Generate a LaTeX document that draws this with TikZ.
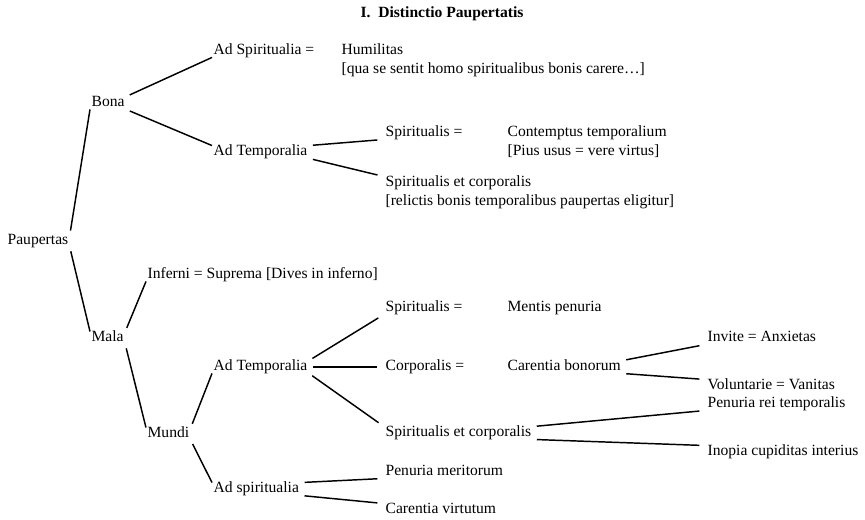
\documentclass[tikz,border=0pt]{standalone}
\usepackage{fontspec}
\setmainfont{Liberation Serif}
\usepackage{tikz}

\tikzset{
    lbl/.style={anchor=west, inner xsep=1pt, inner ysep=0.5pt,
        text height=1.45ex, text depth=.35ex,
        font=\fontsize{11.7}{14}\selectfont},
    branch/.style={line width=1.1pt, shorten <=3pt},
    farbranch/.style={branch, shorten >=5pt}
}

\begin{document}
\begin{tikzpicture}[x=0.75pt, y=-0.75pt]
                \useasboundingbox (0,0) rectangle (865,520);

                % title
                \node[font=\fontsize{11.7}{14}\selectfont\bfseries] (title) at (442,14) {I.\ \ Distinctio Paupertatis};

                % root and first level
                \node[lbl] (paup) at (6,241) {Paupertas};
                \node[lbl] (bona) at (90,103) {Bona};
                \node[lbl] (mala) at (90,338) {Mala};

                % Bona
                \node[lbl] (adspir) at (212,51) {Ad Spiritualia =};
                \node[lbl] (humil) at (340,51) {Humilitas};
                \node[lbl] (humilnote) at ([yshift=-14pt]humil.west) {[qua se sentit homo spiritualibus bonis carere…]};
                \node[lbl] (adtemA) at (212,152) {Ad Temporalia};
                \node[lbl] (spirA) at (384,133) {Spiritualis =};
                \node[lbl] (contempt) at (506,133) {Contemptus temporalium};
                \node[lbl] (contemptnote) at ([yshift=-14pt]contempt.west) {[Pius usus = vere virtus]};
                \node[lbl] (spcoA) at (384,183) {Spiritualis et corporalis};
                \node[lbl] (spconote) at ([yshift=-14pt]spcoA.west) {[relictis bonis temporalibus paupertas eligitur]};

                % Mala
                \node[lbl] (inferni) at (146,275) {Inferni = Suprema [Dives in inferno]};
                \node[lbl] (mundi) at (146,434) {Mundi};
                \node[lbl] (adtemB) at (212,367) {Ad Temporalia};
                \node[lbl] (spirB) at (384,308) {Spiritualis =};
                \node[lbl] (mentis) at (506,308) {Mentis penuria};
                \node[lbl] (corpB) at (384,367) {Corporalis =};
                \node[lbl] (carentB) at (506,367) {Carentia bonorum};
                \node[lbl] (invite) at (706,338) {Invite = Anxietas};
                \node[lbl] (volunt) at (706,386) {Voluntarie = Vanitas};
                \node[lbl] (spcoB) at (384,433) {Spiritualis et corporalis};
                \node[lbl] (penrei) at (706,404) {Penuria rei temporalis};
                \node[lbl] (inopia) at (706,452) {Inopia cupiditas interius};
                \node[lbl] (adspB) at (212,489) {Ad spiritualia};
                \node[lbl] (penmer) at (384,472) {Penuria meritorum};
                \node[lbl] (carvirt) at (384,510) {Carentia virtutum};

                % branches
                \draw[branch] (paup.north east) -- (bona.south west);
                \draw[branch] (paup.south east) -- (mala.north west);
                \draw[branch] (bona.north east) -- (adspir.south west);
                \draw[branch] (bona.south east) -- (adtemA.north west);
                \draw[farbranch] (adtemA.north east) -- (spirA.south west);
                \draw[farbranch] (adtemA.south east) -- (spcoA.north west);
                \draw[branch] (mala.north east) -- (inferni.south west);
                \draw[branch] (mala.south east) -- (mundi.north west);
                \draw[branch] (mundi.north east) -- (adtemB.south west);
                \draw[branch] (mundi.south east) -- (adspB.north west);
                \draw[farbranch] (adtemB.north east) -- (spirB.south west);
                \draw[farbranch] (adtemB.east) -- (corpB.west);
                \draw[farbranch] (adtemB.south east) -- (spcoB.north west);
                \draw[farbranch] (carentB.north east) -- (invite.south west);
                \draw[farbranch] (carentB.south east) -- (volunt.north west);
                \draw[farbranch] (spcoB.north east) -- (penrei.south west);
                \draw[farbranch] (spcoB.south east) -- (inopia.north west);
                \draw[farbranch] (adspB.north east) -- (penmer.south west);
                \draw[farbranch] (adspB.south east) -- (carvirt.north west);
\end{tikzpicture}
\end{document}
